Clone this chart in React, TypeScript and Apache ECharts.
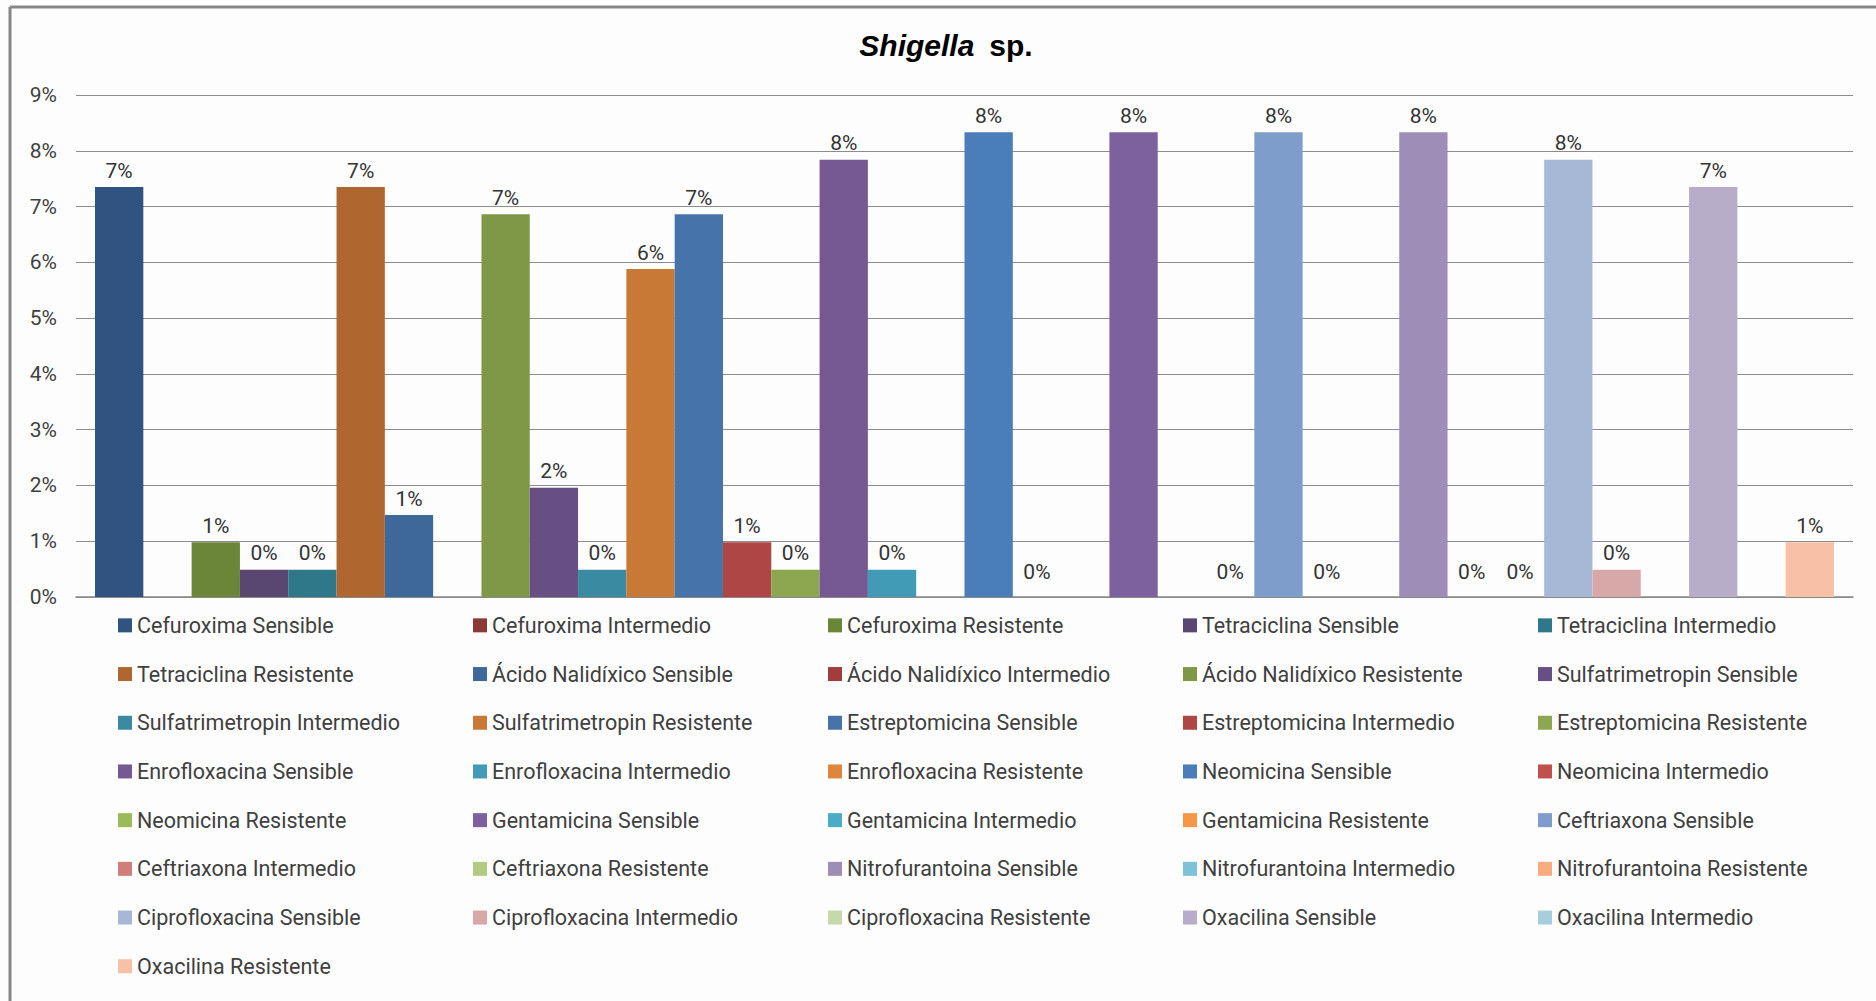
import React, { useEffect, useRef } from "react";
import * as echarts from "echarts";

const antibiotics = [
  "Cefuroxima",
  "Tetraciclina",
  "Ácido Nalidíxico",
  "Sulfatrimetropin",
  "Estreptomicina",
  "Enrofloxacina",
  "Neomicina",
  "Gentamicina",
  "Ceftriaxona",
  "Nitrofurantoina",
  "Ciprofloxacina",
  "Oxacilina",
];
const results = ["Sensible", "Intermedio", "Resistente"];

// percentages per antibiotic (null = no value in source)
const sensible = [7.35, 0.49, 1.47, 1.96, 6.86, 7.84, 8.33, 8.33, 8.33, 8.33, 7.84, 7.35];
const intermedio = [null, 0.49, null, 0.49, 0.98, 0.49, 0, null, 0, 0, 0.49, null];
const resistente = [0.98, 7.35, 6.86, 5.88, 0.49, null, null, 0, null, 0, null, 0.98];

const yTicks = [0, 1, 2, 3, 4, 5, 6, 7, 8, 9];

const seriesColors = [
  "#30547F", "#8C3836", "#6B8539",
  "#594671", "#2F788A", "#B0672F",
  "#3E6899", "#A13E3B", "#7F9848",
  "#684F83", "#3A8BA2", "#C97936",
  "#4673AA", "#AE4645", "#8CA74F",
  "#765993", "#429BB6", "#E0853C",
  "#4A7EBB", "#C0504D", "#9BBB59",
  "#7D619F", "#4BACC6", "#F79646",
  "#7F9DCA", "#CF7E7C", "#B1CB80",
  "#9E8DB6", "#7DC2D6", "#F9AC7D",
  "#A7B8D6", "#D8A8A8", "#C6D9AA",
  "#B8ADC8", "#A6CEDD", "#F8C0A4",
];

const valuesByResult = [sensible, intermedio, resistente];

export default function App() {
  const ref = useRef<HTMLDivElement>(null);

  useEffect(() => {
    if (!ref.current) return;
    const chart = echarts.init(ref.current, undefined, { renderer: "svg" });

    const series: any[] = [];
    antibiotics.forEach((ab, ai) => {
      results.forEach((r, ri) => {
        const idx = ai * 3 + ri;
        const v = valuesByResult[ri][ai];
        series.push({
          name: ab + " " + r,
          type: "bar",
          data: [v],
          barGap: "0%",
          barCategoryGap: "2.14%",
          itemStyle: { color: seriesColors[idx] },
          label: {
            show: true,
            position: "top",
            distance: v === 0 ? 15 : 6,
            fontSize: 21,
            fontFamily: "Roboto",
            color: "#333333",
            formatter: (p: any) => Math.round(p.value) + "%",
          },
        });
      });
    });

    chart.setOption({
      animation: false,
      backgroundColor: "#FDFDFD",
      grid: { left: 76, right: 23, top: 95, bottom: 404, containLabel: false },
      graphic: [
        {
          type: "line",
          shape: { x1: 10, y1: 7, x2: 1876, y2: 7 },
          style: { stroke: "#878787", lineWidth: 3 },
        },
        {
          type: "line",
          shape: { x1: 10, y1: 7, x2: 10, y2: 1001 },
          style: { stroke: "#878787", lineWidth: 3 },
        },
        {
          type: "text",
          x: 946,
          y: 45,
          style: {
            text: "{i|Shigella}{b|\u2002sp.}",
            align: "center",
            verticalAlign: "middle",
            rich: {
              i: {
                fontFamily: "Liberation Sans",
                fontSize: 30,
                fontWeight: "bold",
                fontStyle: "italic",
                fill: "#000000",
              },
              b: {
                fontFamily: "Liberation Sans",
                fontSize: 30,
                fontWeight: "bold",
                fill: "#000000",
              },
            },
          },
        },
      ],
      legend: {
        type: "plain",
        orient: "horizontal",
        left: 118,
        top: 611,
        width: 1760,
        padding: 0,
        itemWidth: 14,
        itemHeight: 14,
        itemGap: 20,
        icon: "rect",
        textStyle: {
          fontSize: 21.5,
          fontFamily: "Roboto",
          color: "#404040",
          width: 316,
          lineHeight: 28.7,
        },
        data: series.map((s) => s.name),
      },
      xAxis: {
        type: "category",
        data: [""],
        axisTick: { show: false },
        axisLabel: { show: false },
        axisLine: { show: true, lineStyle: { color: "#888888", width: 1.5 } },
      },
      yAxis: {
        type: "value",
        min: yTicks[0],
        max: yTicks[yTicks.length - 1],
        interval: 1,
        axisLine: { show: false },
        axisTick: { show: false },
        axisLabel: {
          formatter: "{value}%",
          fontSize: 21,
          fontFamily: "Roboto",
          color: "#404040",
          margin: 19,
        },
        splitLine: { lineStyle: { color: "#8C8C8C", width: 1 } },
      },
      series,
    });

    return () => chart.dispose();
  }, []);

  return (
    <div
      ref={ref}
      style={{ position: "absolute", left: 0, top: 0, width: 1876, height: 1001 }}
    />
  );
}
